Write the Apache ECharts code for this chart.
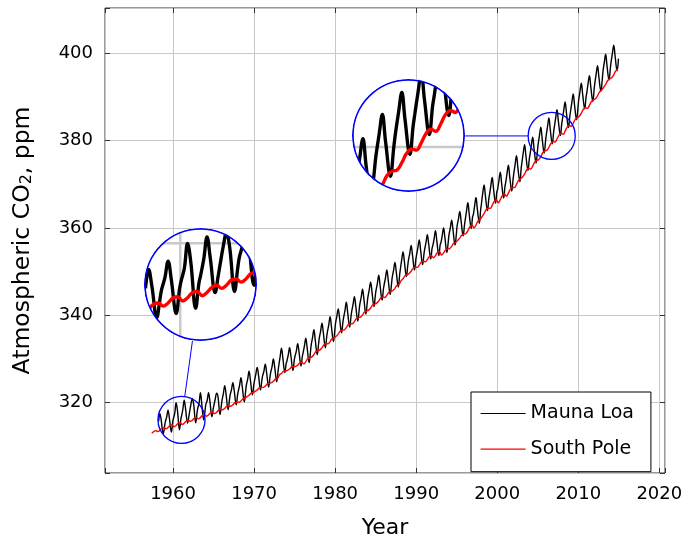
<!DOCTYPE html>
<html>
<head>
<meta charset="utf-8">
<script src="https://cdn.jsdelivr.net/npm/echarts@6/dist/echarts.min.js"></script>
<style>
  html, body { margin: 0; padding: 0; background: #fff; }
  #main { position: absolute; left: 0; top: 0; width: 688px; height: 544px; }
  .lens { position: absolute; border-radius: 50%; overflow: hidden; background: #fff; }
</style>
</head>
<body>
<div id="main"></div>
<script>
// ---- data -------------------------------------------------------------
// Mauna Loa: one row per year (from 1958), samples in Jan, Mar, May, Jul, Oct, Dec (ppm)
const mlFirstYear = 1958;
const mlMonths = [1, 3, 5, 7, 10, 12];
const mlValues = [
  [null, 315.7, 317.5, 315.9, 312.9, 314.7],
  [315.6, 316.7, 318.3, 316.5, 313.3, 315.6],
  [316.4, 317.6, 320.0, 318.2, 313.8, 316.2],
  [316.9, 318.5, 320.6, 318.6, 315.3, 317.0],
  [317.9, 319.7, 321.0, 319.6, 315.4, 317.7],
  [318.7, 319.9, 322.3, 319.7, 316.0, 318.4],
  [319.6, 320.5, 322.3, 320.4, 316.8, 318.7],
  [319.4, 320.9, 322.2, 321.4, 317.3, 319.4],
  [320.6, 322.1, 323.9, 321.9, 318.4, 320.7],
  [321.8, 323.0, 324.6, 322.8, 319.5, 321.8],
  [322.6, 324.0, 325.7, 323.6, 320.2, 322.7],
  [324.0, 325.4, 327.2, 325.2, 321.8, 324.1],
  [325.0, 326.5, 328.1, 326.3, 322.9, 325.2],
  [326.1, 327.2, 328.8, 326.9, 323.6, 325.9],
  [326.9, 328.2, 330.0, 328.1, 324.8, 327.3],
  [328.5, 330.5, 332.5, 330.3, 326.9, 329.0],
  [329.5, 330.9, 332.6, 330.7, 327.4, 329.8],
  [330.6, 331.8, 333.5, 331.6, 328.4, 330.7],
  [331.4, 333.0, 334.8, 332.6, 329.2, 331.7],
  [333.2, 334.9, 336.7, 334.4, 331.0, 333.5],
  [334.8, 336.4, 338.2, 336.0, 332.6, 335.1],
  [336.2, 337.8, 339.7, 337.4, 334.0, 336.6],
  [338.1, 339.8, 341.5, 339.4, 336.0, 338.5],
  [339.5, 341.1, 343.0, 340.7, 337.3, 339.8],
  [340.9, 342.5, 344.3, 342.1, 338.7, 341.2],
  [342.5, 344.1, 346.0, 343.8, 340.3, 342.9],
  [344.2, 345.9, 347.6, 345.4, 342.0, 344.6],
  [345.7, 347.3, 349.2, 346.9, 343.5, 346.1],
  [347.0, 348.6, 350.4, 348.2, 344.8, 347.3],
  [348.7, 350.3, 352.1, 349.9, 346.5, 349.3],
  [350.5, 352.7, 354.5, 352.3, 348.9, 351.4],
  [352.6, 354.2, 356.0, 353.8, 350.4, 352.9],
  [353.8, 355.5, 357.3, 355.0, 351.6, 354.1],
  [355.1, 356.7, 358.5, 356.3, 352.9, 355.4],
  [355.9, 357.5, 359.4, 357.1, 353.7, 356.2],
  [356.6, 358.2, 360.0, 357.8, 354.4, 356.9],
  [358.4, 360.0, 361.8, 359.6, 356.1, 358.7],
  [360.4, 362.0, 363.8, 361.6, 358.2, 360.7],
  [361.8, 363.9, 365.8, 363.2, 359.9, 362.6],
  [363.0, 365.1, 367.0, 364.4, 361.1, 364.3],
  [365.4, 368.0, 369.9, 367.3, 364.0, 366.7],
  [367.6, 369.7, 371.6, 369.0, 365.7, 368.4],
  [368.8, 370.9, 372.8, 370.2, 366.9, 369.6],
  [370.4, 372.5, 374.4, 371.8, 368.5, 371.2],
  [372.5, 374.6, 376.6, 373.9, 370.6, 373.8],
  [374.9, 377.2, 379.1, 376.5, 373.2, 375.9],
  [376.8, 378.9, 380.8, 378.2, 374.9, 377.6],
  [379.1, 381.2, 383.1, 380.5, 377.2, 379.9],
  [381.2, 383.3, 385.2, 382.6, 379.3, 382.0],
  [383.1, 385.2, 387.1, 384.5, 381.2, 383.9],
  [384.9, 387.0, 388.9, 386.3, 383.0, 385.7],
  [386.7, 388.8, 390.7, 388.1, 384.8, 387.5],
  [389.2, 391.3, 393.2, 390.6, 387.3, 390.0],
  [390.9, 393.1, 394.9, 392.4, 389.0, 391.8],
  [393.2, 395.3, 397.2, 394.6, 391.3, 394.0],
  [395.8, 397.9, 399.8, 397.2, 393.9, 396.6],
  [398.0, 400.0, 401.9, 399.4, 396.0, 398.8]
];

// South Pole: one row per year (from 1957), samples in Feb, May, Aug, Nov (ppm)
const spFirstYear = 1957;
const spMonths = [2, 5, 8, 11];
const spValues = [
  [null, 313.0, 313.4, 313.6],
  [313.4, 313.7, 314.2, 314.3],
  [314.0, 314.3, 314.8, 314.9],
  [314.5, 314.8, 315.3, 315.4],
  [315.0, 315.3, 315.8, 316.0],
  [315.7, 316.0, 316.5, 316.6],
  [316.3, 316.6, 317.1, 317.2],
  [316.9, 317.2, 317.7, 317.8],
  [317.5, 317.8, 318.3, 318.5],
  [318.4, 318.7, 319.2, 319.3],
  [319.2, 319.5, 320.0, 320.1],
  [320.1, 320.4, 320.9, 321.0],
  [321.4, 321.7, 322.2, 322.3],
  [322.6, 322.9, 323.4, 323.5],
  [323.5, 323.8, 324.3, 324.4],
  [324.6, 324.9, 325.4, 325.5],
  [326.4, 326.7, 327.2, 327.3],
  [327.4, 327.7, 328.2, 328.3],
  [328.3, 328.6, 329.1, 329.2],
  [328.9, 329.4, 330.1, 330.3],
  [330.5, 331.0, 331.7, 331.9],
  [332.1, 332.6, 333.3, 333.5],
  [333.5, 334.0, 334.7, 334.9],
  [335.2, 335.7, 336.4, 336.6],
  [336.7, 337.2, 337.9, 338.1],
  [338.1, 338.6, 339.3, 339.5],
  [339.6, 340.1, 340.8, 341.0],
  [341.2, 341.7, 342.4, 342.6],
  [342.8, 343.3, 344.0, 344.2],
  [344.1, 344.6, 345.3, 345.5],
  [345.7, 346.2, 346.9, 347.1],
  [347.9, 348.4, 349.1, 349.3],
  [349.6, 350.1, 350.8, 351.0],
  [351.0, 351.5, 352.2, 352.4],
  [352.3, 352.8, 353.5, 353.7],
  [353.2, 353.7, 354.4, 354.6],
  [353.8, 354.3, 355.0, 355.2],
  [355.3, 355.8, 356.5, 356.7],
  [357.2, 357.7, 358.4, 358.6],
  [358.7, 359.4, 360.3, 360.7],
  [360.0, 360.7, 361.6, 362.0],
  [362.6, 363.3, 364.2, 364.6],
  [364.5, 365.2, 366.1, 366.5],
  [365.8, 366.5, 367.4, 367.8],
  [367.3, 368.0, 368.9, 369.3],
  [369.3, 370.0, 370.9, 371.3],
  [371.7, 372.4, 373.3, 373.7],
  [373.5, 374.2, 375.1, 375.5],
  [375.7, 376.4, 377.3, 377.7],
  [377.8, 378.5, 379.4, 379.8],
  [379.7, 380.4, 381.3, 381.7],
  [381.5, 382.2, 383.1, 383.5],
  [383.3, 384.0, 384.9, 385.3],
  [385.6, 386.3, 387.2, 387.6],
  [387.4, 388.1, 389.0, 389.4],
  [389.6, 390.3, 391.2, 391.6],
  [392.2, 392.9, 393.8, 394.2],
  [394.4, 395.1, 396.0, 396.4]
];

const xTicks = [1960, 1970, 1980, 1990, 2000, 2010, 2020];
const yTicks = [320, 340, 360, 380, 400];
const seriesNames = ['Mauna Loa', 'South Pole'];

// magnified views: source point on the curve, lens placement (both in data units)
const spies = [
  { source: [1961.04, 316.07], target: [1963.35, 346.98] },
  { source: [2006.72, 381.10], target: [1989.10, 381.10] }
];

// ---- layout / style ---------------------------------------------------
const FONT = 'DejaVu Sans';
const AXIS_COLOR = '#333333';
const GRID_COLOR = '#c8c8c8';
const ML_COLOR = '#000000';
const SP_COLOR = '#ff0000';
const SPY_COLOR = '#0000ff';
const X_RANGE = [1951.6, 2020.7];
const Y_RANGE = [303.9, 410.4];
const LINE_W = 1.4;
const MAG = 2.4;          // lens magnification
const LENS_R = 56.5;      // lens radius in px

function toPoints(firstYear, months, rows) {
  const pts = [];
  rows.forEach((row, i) => {
    row.forEach((v, j) => {
      if (v !== null) pts.push([firstYear + i + (months[j] - 0.5) / 12, v]);
    });
  });
  return pts;
}
const mlData = toPoints(mlFirstYear, mlMonths, mlValues);
const spData = toPoints(spFirstYear, spMonths, spValues);

const onTick = (list) => (v) => (list.some(t => Math.abs(t - v) < 1e-6) ? String(Math.round(v)) : '');

const main = echarts.init(document.getElementById('main'), null, { renderer: 'canvas' });

main.setOption({
  animation: false,
  backgroundColor: '#fff',
  textStyle: { fontFamily: FONT },
  grid: {
    left: 105, right: 23, top: 8, bottom: 67,
    show: true, borderColor: AXIS_COLOR, borderWidth: 1, backgroundColor: 'transparent'
  },
  legend: {
    left: 471, top: 392, orient: 'vertical',
    itemWidth: 45, itemHeight: 14, itemGap: 16.7,
    padding: [12, 17, 13, 9],
    backgroundColor: '#fff', borderColor: '#000', borderWidth: 1,
    itemStyle: { opacity: 0 },
    lineStyle: { width: 1.2 },
    textStyle: { fontFamily: FONT, fontSize: 19, color: '#000' },
    data: seriesNames
  },
  xAxis: [
    {
      type: 'value', min: X_RANGE[0], max: X_RANGE[1], splitNumber: 7,
      axisLine: { show: false },
      axisTick: { show: true, inside: true, length: 5, lineStyle: { color: AXIS_COLOR } },
      axisLabel: { margin: 12, fontFamily: FONT, fontSize: 18, color: '#000', formatter: onTick(xTicks) },
      splitLine: { show: true, lineStyle: { color: GRID_COLOR, width: 1 } },
      name: 'Year', nameLocation: 'middle', nameGap: 44,
      nameTextStyle: { fontFamily: FONT, fontSize: 22, color: '#000' }
    },
    {
      type: 'value', position: 'top', min: X_RANGE[0], max: X_RANGE[1], splitNumber: 7,
      axisLine: { show: false },
      axisTick: { show: true, inside: true, length: 5, lineStyle: { color: AXIS_COLOR } },
      axisLabel: { show: false }, splitLine: { show: false }
    }
  ],
  yAxis: [
    {
      type: 'value', min: Y_RANGE[0], max: Y_RANGE[1], splitNumber: 5,
      axisLine: { show: false },
      axisTick: { show: true, inside: true, length: 5, lineStyle: { color: AXIS_COLOR } },
      axisLabel: { margin: 12, fontFamily: FONT, fontSize: 18, color: '#000', formatter: onTick(yTicks) },
      splitLine: { show: true, lineStyle: { color: GRID_COLOR, width: 1 } },
      name: '{t|Atmospheric CO}{s|2}{t|, ppm}', nameLocation: 'middle', nameGap: 70,
      nameTextStyle: {
        fontFamily: FONT, fontSize: 23.5, color: '#000',
        rich: {
          t: { fontFamily: FONT, fontSize: 23.5, color: '#000', lineHeight: 24, verticalAlign: 'top' },
          s: { fontFamily: FONT, fontSize: 16, color: '#000', lineHeight: 16, padding: [11, 0, 0, 0], verticalAlign: 'bottom' }
        }
      }
    },
    {
      type: 'value', position: 'right', min: Y_RANGE[0], max: Y_RANGE[1], splitNumber: 5,
      axisLine: { show: false },
      axisTick: { show: true, inside: true, length: 5, lineStyle: { color: AXIS_COLOR } },
      axisLabel: { show: false }, splitLine: { show: false }
    }
  ],
  series: [
    {
      name: seriesNames[0], type: 'line', data: mlData, symbol: 'none', smooth: 0.4,
      lineStyle: { color: ML_COLOR, width: LINE_W }, itemStyle: { color: ML_COLOR }, z: 2
    },
    {
      name: seriesNames[1], type: 'line', data: spData, symbol: 'none', smooth: 0.4,
      lineStyle: { color: SP_COLOR, width: LINE_W }, itemStyle: { color: SP_COLOR }, z: 3
    }
  ]
});

// ---- magnifier lenses ------------------------------------------------
const px = (v) => main.convertToPixel({ xAxisIndex: 0, yAxisIndex: 0 }, v);
const pxPerX = (main.convertToPixel({ xAxisIndex: 0 }, 2000) - main.convertToPixel({ xAxisIndex: 0 }, 1960)) / 40;
const pxPerY = (main.convertToPixel({ yAxisIndex: 0 }, 320) - main.convertToPixel({ yAxisIndex: 0 }, 400)) / 80;
const smallR = LENS_R / MAG;

const outlines = [];
spies.forEach((spy) => {
  const s = px(spy.source);
  const b = px(spy.target);
  const dx = b[0] - s[0], dy = b[1] - s[1];
  const len = Math.hypot(dx, dy);
  const ux = dx / len, uy = dy / len;
  outlines.push({
    type: 'circle', z: 100,
    shape: { cx: s[0], cy: s[1], r: smallR },
    style: { fill: 'none', stroke: SPY_COLOR, lineWidth: 1.3 }
  });
  outlines.push({
    type: 'line', z: 100,
    shape: { x1: s[0] + ux * smallR, y1: s[1] + uy * smallR, x2: b[0] - ux * LENS_R, y2: b[1] - uy * LENS_R },
    style: { stroke: SPY_COLOR, lineWidth: 1 }
  });

  // the lens itself: a round window with its own, magnified chart
  const size = 2 * LENS_R;
  const div = document.createElement('div');
  div.className = 'lens';
  div.style.left = (b[0] - LENS_R) + 'px';
  div.style.top = (b[1] - LENS_R) + 'px';
  div.style.width = size + 'px';
  div.style.height = size + 'px';
  document.body.appendChild(div);

  const hx = LENS_R / (MAG * pxPerX);
  const hy = LENS_R / (MAG * pxPerY);
  const xr = [spy.source[0] - hx, spy.source[0] + hx];
  const yr = [spy.source[1] - hy, spy.source[1] + hy];

  // magnified grid lines, drawn as plain two-point lines through the lens scales
  const gridStyle = { color: GRID_COLOR, width: MAG };
  const gridSeries = xTicks.filter(v => v > xr[0] && v < xr[1])
    .map(v => [[v, yr[0]], [v, yr[1]]])
    .concat(yTicks.filter(v => v > yr[0] && v < yr[1]).map(v => [[xr[0], v], [xr[1], v]]))
    .map(seg => ({ type: 'line', data: seg, symbol: 'none', silent: true, z: 1, lineStyle: gridStyle }));

  const lens = echarts.init(div, null, { renderer: 'canvas', width: size, height: size });
  lens.setOption({
    animation: false,
    backgroundColor: '#fff',
    grid: { left: 0, right: 0, top: 0, bottom: 0 },
    xAxis: { type: 'value', min: xr[0], max: xr[1], show: false },
    yAxis: { type: 'value', min: yr[0], max: yr[1], show: false },
    series: gridSeries.concat([
      {
        type: 'line', data: mlData, symbol: 'none', smooth: 0.4, z: 2,
        lineStyle: { color: ML_COLOR, width: LINE_W * MAG }
      },
      {
        type: 'line', data: spData, symbol: 'none', smooth: 0.4, z: 3,
        lineStyle: { color: SP_COLOR, width: LINE_W * MAG }
      }
    ]),
    graphic: [{
      type: 'circle', z: 100,
      shape: { cx: LENS_R, cy: LENS_R, r: LENS_R - 0.9 },
      style: { fill: 'none', stroke: SPY_COLOR, lineWidth: 1.8 }
    }]
  });
});

main.setOption({ graphic: outlines });
</script>
</body>
</html>
